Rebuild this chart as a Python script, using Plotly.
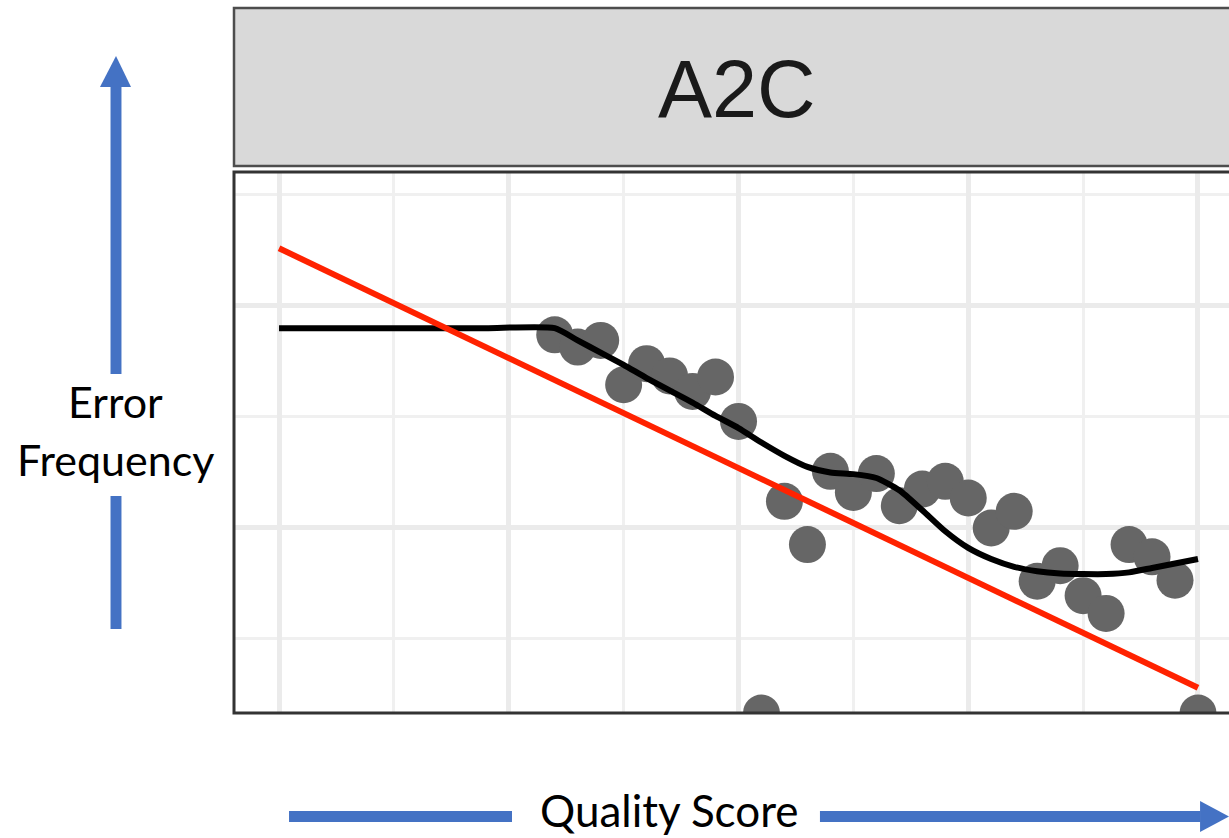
import plotly.graph_objects as go

# ---- data ----
facet_label = "A2C"
x_label = "Quality Score"
y_label_lines = ["Error", "Frequency"]

quality = [12, 13, 14, 15, 16, 17, 18, 19, 20, 21, 22, 23, 24, 25, 26,
           27, 28, 29, 30, 31, 32, 33, 34, 35, 36, 37, 38, 39, 40]
error_freq = [37.4, 36.3, 36.9, 32.9, 34.8, 33.7, 32.3, 33.6, 29.6, 3.33,
              22.4, 18.5, 25.1, 23.2, 24.9, 22.0, 23.5, 24.2, 22.7, 20.0,
              21.5, 15.2, 16.6, 13.9, 12.3, 18.5, 17.4, 15.3, 3.33]

smooth_x = [0, 3, 6, 9, 12, 13, 14, 15, 16, 17, 18, 19, 20, 21, 22, 23, 24, 25, 26,
            27, 28, 29, 30, 31, 32, 33, 34, 35, 36, 37, 38, 39, 40]
smooth_y = [38.0, 38.0, 38.0, 38.0, 38.0, 36.9, 35.8, 34.7, 33.5, 32.4, 31.3, 30.1,
            29.0, 27.7, 26.5, 25.5, 25.0, 24.85, 24.5, 23.4, 21.6, 19.7, 18.2, 17.2,
            16.5, 16.1, 15.9, 15.85, 15.85, 16.0, 16.4, 16.8, 17.2]

linear_x = [0, 40]
linear_y = [45.2, 5.6]

x_range = [-1.96, 41.35]
y_range = [3.33, 52.07]

BLUE = "#4472C4"

fig = go.Figure()
fig.add_trace(go.Scatter(x=quality, y=error_freq, mode="markers",
                         marker=dict(size=37, color="#666666", line=dict(width=0)),
                         showlegend=False, hoverinfo="skip"))
fig.add_trace(go.Scatter(x=smooth_x, y=smooth_y, mode="lines",
                         line=dict(color="black", width=6, shape="spline", smoothing=0.6),
                         showlegend=False, hoverinfo="skip"))
fig.add_trace(go.Scatter(x=linear_x, y=linear_y, mode="lines",
                         line=dict(color="#FF2200", width=6),
                         showlegend=False, hoverinfo="skip"))

axis_common = dict(showticklabels=False, ticks="", zeroline=False, showline=False,
                   showgrid=True, gridcolor="#EBEBEB", gridwidth=5)
fig.update_xaxes(range=x_range, tick0=0, dtick=10,
                 minor=dict(tick0=0, dtick=5, showgrid=True, gridcolor="#F0F0F0", gridwidth=3),
                 **axis_common)
fig.update_yaxes(range=y_range, tick0=0, dtick=20,
                 minor=dict(tick0=0, dtick=10, showgrid=True, gridcolor="#F0F0F0", gridwidth=3),
                 **axis_common)

shapes = []
# panel border
shapes.append(dict(type="rect", xref="paper", yref="paper", x0=0, y0=0, x1=1.05, y1=1,
                   line=dict(color="#333333", width=3), layer="above"))
# strip
shapes.append(dict(type="rect", xref="paper", yref="paper", x0=0, y0=1.0111, x1=1.05, y1=1.3031,
                   fillcolor="#D9D9D9", line=dict(color="#4D4D4D", width=2.5), layer="above"))
# vertical arrow (up)
shapes.append(dict(type="rect", xref="paper", yref="paper", x0=-0.1241, x1=-0.1131,
                   y0=0.6266, y1=1.158, fillcolor=BLUE, line=dict(width=0)))
shapes.append(dict(type="path", xref="paper", yref="paper",
                   path="M -0.1347 1.1571 L -0.1035 1.1571 L -0.1186 1.2144 Z",
                   fillcolor=BLUE, line=dict(width=0)))
shapes.append(dict(type="rect", xref="paper", yref="paper", x0=-0.1241, x1=-0.1131,
                   y0=0.1553, y1=0.4011, fillcolor=BLUE, line=dict(width=0)))
# horizontal arrow (right)
shapes.append(dict(type="rect", xref="paper", yref="paper", x0=0.0553, x1=0.2794,
                   y0=-0.2015, y1=-0.1811, fillcolor=BLUE, line=dict(width=0)))
shapes.append(dict(type="rect", xref="paper", yref="paper", x0=0.5889, x1=0.9715,
                   y0=-0.2015, y1=-0.1811, fillcolor=BLUE, line=dict(width=0)))
shapes.append(dict(type="path", xref="paper", yref="paper",
                   path="M 0.9709 -0.1627 L 0.9709 -0.2200 L 1.0 -0.1913 Z",
                   fillcolor=BLUE, line=dict(width=0)))

annotations = [
    dict(text=facet_label, xref="paper", yref="paper", x=0.5055, y=1.153,
         xanchor="center", yanchor="middle", showarrow=False,
         font=dict(family="Liberation Sans, Arial", size=81, color="#1A1A1A")),
    dict(text=y_label_lines[0], xref="paper", yref="paper", x=-0.1186, y=0.5749,
         xanchor="center", yanchor="middle", showarrow=False,
         font=dict(family="Lato", size=43, color="black")),
    dict(text=y_label_lines[1], xref="paper", yref="paper", x=-0.1186, y=0.4677,
         xanchor="center", yanchor="middle", showarrow=False,
         font=dict(family="Lato", size=43, color="black")),
    dict(text=x_label, xref="paper", yref="paper", x=0.4372, y=-0.1793,
         xanchor="center", yanchor="middle", showarrow=False,
         font=dict(family="Lato", size=44, color="black")),
]

fig.update_layout(width=1229, height=838,
                  margin=dict(l=234, r=0, t=172, b=125, pad=0),
                  plot_bgcolor="white", paper_bgcolor="white",
                  shapes=shapes, annotations=annotations, showlegend=False)

fig.write_html("out.html", config={"displayModeBar": False},
               post_script="document.body.style.margin='0px';document.body.style.overflow='hidden';")
